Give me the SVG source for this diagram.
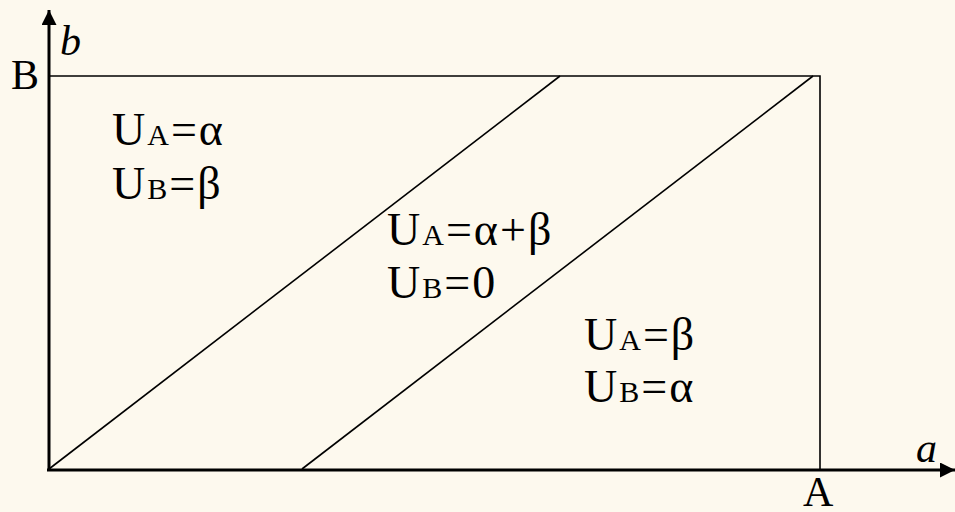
<svg xmlns="http://www.w3.org/2000/svg" width="955" height="512" viewBox="0 0 955 512">
<defs>
<style>
.t{font-family:"Liberation Serif","Times New Roman",serif;font-size:42px;fill:#000}
.e{font-size:46px;letter-spacing:2px}
.s{font-size:30px}
.i{font-style:italic}
.thin{stroke:#000;stroke-width:1.6;fill:none}
.axis{stroke:#000;stroke-width:3;fill:none}
</style>
<marker id="arr" viewBox="0 0 10 10" refX="10" refY="5" markerWidth="5" markerHeight="5" orient="auto" markerUnits="strokeWidth">
<path d="M0,0 L10,5 L0,10 z" fill="#000"/>
</marker>
</defs>
<rect width="955" height="512" fill="#FDF9EE"/>
<g id="connectors">
<polyline class="thin" points="49,76 820,76 820,469"/>
<line class="thin" x1="49" y1="469" x2="560" y2="76"/>
<line class="thin" x1="302" y1="469" x2="813" y2="76"/>
<line class="axis" x1="49" y1="470" x2="49" y2="10" marker-end="url(#arr)"/>
<line class="axis" x1="47" y1="470" x2="955" y2="470" marker-end="url(#arr)"/>
</g>
<g id="axis-labels">
<text class="t" x="11" y="89">B</text>
<text class="t i" x="60" y="55">b</text>
<text class="t i" x="916" y="462">a</text>
<text class="t" x="803" y="506">A</text>
</g>
<g id="region-left">
<text class="t e" x="112" y="145">U<tspan class="s">A</tspan>=α</text>
<text class="t e" x="112" y="199">U<tspan class="s">B</tspan>=β</text>
</g>
<g id="region-middle">
<text class="t e" x="387" y="245">U<tspan class="s">A</tspan>=α+β</text>
<text class="t e" x="387" y="298">U<tspan class="s">B</tspan>=0</text>
</g>
<g id="region-right">
<text class="t e" x="584" y="350">U<tspan class="s">A</tspan>=β</text>
<text class="t e" x="584" y="402">U<tspan class="s">B</tspan>=α</text>
</g>
</svg>
